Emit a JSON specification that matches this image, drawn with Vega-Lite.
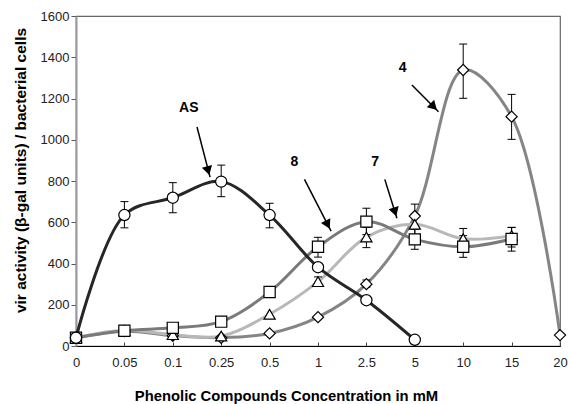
{
  "$schema": "https://vega.github.io/schema/vega-lite/v6.json",
  "width": 484,
  "height": 330,
  "autosize": {"type": "none"},
  "padding": {"left": 76, "top": 16, "right": 9, "bottom": 58},
  "config": {
    "font": "Liberation Sans",
    "view": {"stroke": "#666", "strokeWidth": 1.2},
    "axis": {"grid": false, "labelFont": "Liberation Sans", "titleFont": "Liberation Sans", "labelColor": "#222", "titleColor": "#000"}
  },
  "datasets": {
    "series": [
      {"series": "4", "conc": "0", "value": 40},
      {"series": "4", "conc": "0.05", "value": 72},
      {"series": "4", "conc": "0.1", "value": 50},
      {"series": "4", "conc": "0.25", "value": 40},
      {"series": "4", "conc": "0.5", "value": 61},
      {"series": "4", "conc": "1", "value": 140},
      {"series": "4", "conc": "2.5", "value": 300, "lo": 285, "hi": 320},
      {"series": "4", "conc": "5", "value": 630, "lo": 575, "hi": 688},
      {"series": "4", "conc": "10", "value": 1338, "lo": 1201, "hi": 1464},
      {"series": "4", "conc": "15", "value": 1112, "lo": 1002, "hi": 1220},
      {"series": "4", "conc": "20", "value": 53},
      {"series": "7", "conc": "0", "value": 40},
      {"series": "7", "conc": "0.05", "value": 76},
      {"series": "7", "conc": "0.1", "value": 55},
      {"series": "7", "conc": "0.25", "value": 48},
      {"series": "7", "conc": "0.5", "value": 154},
      {"series": "7", "conc": "1", "value": 312, "lo": 290, "hi": 335},
      {"series": "7", "conc": "2.5", "value": 528, "lo": 477, "hi": 575},
      {"series": "7", "conc": "5", "value": 590, "lo": 540, "hi": 640},
      {"series": "7", "conc": "10", "value": 520, "lo": 480, "hi": 570},
      {"series": "7", "conc": "15", "value": 535, "lo": 480, "hi": 575},
      {"series": "8", "conc": "0", "value": 40},
      {"series": "8", "conc": "0.05", "value": 74},
      {"series": "8", "conc": "0.1", "value": 88},
      {"series": "8", "conc": "0.25", "value": 118},
      {"series": "8", "conc": "0.5", "value": 262},
      {"series": "8", "conc": "1", "value": 481, "lo": 431, "hi": 527},
      {"series": "8", "conc": "2.5", "value": 603, "lo": 540, "hi": 668},
      {"series": "8", "conc": "5", "value": 517, "lo": 469, "hi": 565},
      {"series": "8", "conc": "10", "value": 481, "lo": 430, "hi": 535},
      {"series": "8", "conc": "15", "value": 519, "lo": 460, "hi": 575},
      {"series": "AS", "conc": "0", "value": 40},
      {"series": "AS", "conc": "0.05", "value": 635, "lo": 573, "hi": 700},
      {"series": "AS", "conc": "0.1", "value": 719, "lo": 646, "hi": 792},
      {"series": "AS", "conc": "0.25", "value": 797, "lo": 724, "hi": 877},
      {"series": "AS", "conc": "0.5", "value": 635, "lo": 573, "hi": 692},
      {"series": "AS", "conc": "1", "value": 382},
      {"series": "AS", "conc": "2.5", "value": 222},
      {"series": "AS", "conc": "5", "value": 30}
    ],
    "arrows": [
      {"label": "AS", "tx": 2.33, "ty": 1154, "x": 2.5, "y": 1062, "x2": 2.77, "y2": 819, "hx": 2.73, "hy": 850, "angle": 345},
      {"label": "8", "tx": 4.51, "ty": 893, "x": 4.72, "y": 808, "x2": 5.27, "y2": 557, "hx": 5.2, "hy": 588, "angle": 333},
      {"label": "7", "tx": 6.18, "ty": 893, "x": 6.38, "y": 808, "x2": 6.63, "y2": 619, "hx": 6.59, "hy": 650, "angle": 343},
      {"label": "4", "tx": 6.75, "ty": 1346, "x": 6.94, "y": 1265, "x2": 7.49, "y2": 1136, "hx": 7.39, "hy": 1160, "angle": 315}
    ]
  },
  "layer": [
    {
      "data": {"name": "series"},
      "encoding": {
        "x": {
          "field": "conc", "type": "ordinal", "sort": null,
          "scale": {"type": "point", "padding": 0},
          "axis": {
            "title": "Phenolic Compounds Concentration in mM",
            "labelAngle": 0, "labelFontSize": 13, "labelPadding": 14,
            "tickSize": -4, "tickColor": "#444", "domainColor": "#000", "domainWidth": 1.2,
            "titleFontSize": 14.8, "titleFontWeight": "bold", "titleX": 210, "titleY": 42
          }
        },
        "y": {
          "type": "quantitative",
          "scale": {"domain": [0, 1600]},
          "axis": {
            "title": "vir activity (β-gal units) / bacterial cells",
            "values": [0, 200, 400, 600, 800, 1000, 1200, 1400, 1600],
            "format": "d",
            "labelFontSize": 13, "labelPadding": 2, "tickSize": 5, "tickColor": "#555",
            "domainColor": "#999", "domainWidth": 2,
            "titleFontSize": 15.5, "titleFontWeight": "bold", "titleX": -48, "titleY": 154
          }
        }
      },
      "layer": [
        {
          "mark": {"type": "line", "interpolate": "catmull-rom", "strokeWidth": 3},
          "encoding": {
            "y": {"field": "value"},
            "detail": {"field": "series"},
            "color": {"field": "series", "type": "nominal", "legend": null,
              "scale": {"domain": ["4", "7", "8", "AS"], "range": ["#858585", "#b8b8b8", "#7a7a7a", "#262626"]}}
          }
        },
        {
          "transform": [{"filter": "datum.lo != null"}],
          "mark": {"type": "rule", "color": "#000", "strokeWidth": 1},
          "encoding": {"y": {"field": "lo"}, "y2": {"field": "hi"}}
        },
        {
          "transform": [{"filter": "datum.lo != null"}],
          "mark": {"type": "tick", "color": "#000", "size": 8, "thickness": 1, "orient": "horizontal", "opacity": 1},
          "encoding": {"y": {"field": "lo"}}
        },
        {
          "transform": [{"filter": "datum.lo != null"}],
          "mark": {"type": "tick", "color": "#000", "size": 8, "thickness": 1, "orient": "horizontal", "opacity": 1},
          "encoding": {"y": {"field": "hi"}}
        },
        {
          "mark": {"type": "point", "filled": true, "fill": "#fff", "stroke": "#000", "strokeWidth": 1.2, "opacity": 1, "size": 125},
          "encoding": {
            "y": {"field": "value"},
            "shape": {"field": "series", "type": "nominal", "legend": null,
              "scale": {"domain": ["4", "7", "8", "AS"], "range": ["diamond", "triangle-up", "square", "circle"]}}
          }
        }
      ]
    },
    {
      "data": {"name": "arrows"},
      "layer": [
        {
          "mark": {"type": "rule", "color": "#000", "strokeWidth": 1.5},
          "encoding": {
            "x": {"field": "x", "type": "quantitative", "scale": {"domain": [0, 10]}, "axis": null},
            "y": {"field": "y", "type": "quantitative"},
            "x2": {"field": "x2"},
            "y2": {"field": "y2"}
          }
        },
        {
          "mark": {"type": "point", "shape": "triangle-down", "filled": true, "color": "#000", "opacity": 1, "size": 110},
          "encoding": {
            "x": {"field": "hx", "type": "quantitative", "scale": {"domain": [0, 10]}, "axis": null},
            "y": {"field": "hy", "type": "quantitative"},
            "angle": {"field": "angle", "type": "quantitative", "scale": null}
          }
        },
        {
          "mark": {"type": "text", "font": "Liberation Sans", "fontWeight": "bold", "fontSize": 14, "color": "#000"},
          "encoding": {
            "x": {"field": "tx", "type": "quantitative", "scale": {"domain": [0, 10]}, "axis": null},
            "y": {"field": "ty", "type": "quantitative"},
            "text": {"field": "label"}
          }
        }
      ]
    }
  ],
  "resolve": {"scale": {"x": "independent"}}
}
